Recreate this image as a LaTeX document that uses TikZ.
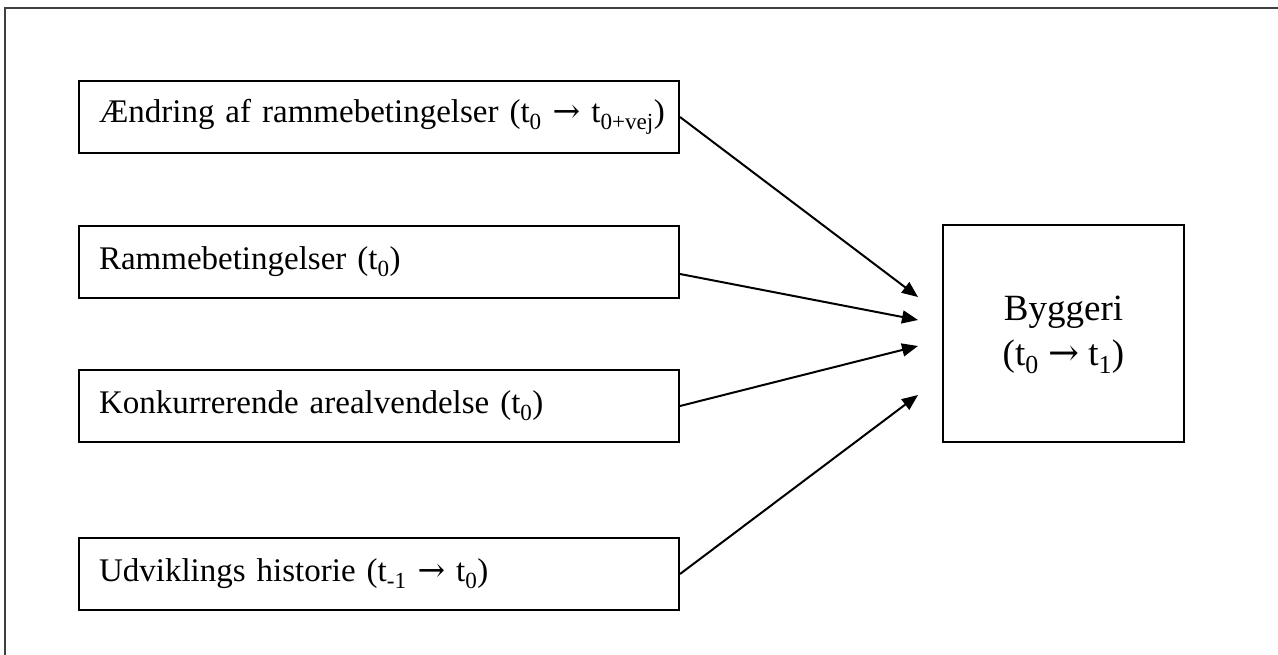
\documentclass[tikz,border=0pt]{standalone}
\usepackage{fontspec}
\setmainfont{Liberation Serif}
\newfontfamily\arrowfont{DejaVu Serif}
\usepackage{tikz}
\usetikzlibrary{arrows.meta,positioning}

\newcommand{\tarr}{{\arrowfont →}}

\begin{document}
\begin{tikzpicture}[
  x=1pt, y=-1pt,
  >={Triangle[length=16pt,width=13pt]},
  factor/.style={draw, line width=2pt, minimum height=72pt, text width=560pt, inner xsep=20pt, inner ysep=0pt, align=left, font=\fontsize{33}{40}\selectfont},
  result/.style={draw, line width=2pt, minimum width=241pt, minimum height=217pt, inner sep=0pt, align=center, font=\fontsize{37}{45}\selectfont},
  arr/.style={->, line width=2pt}
]
\useasboundingbox (0,0) rectangle (1278,655);
\draw[line width=2pt, black!75] (5,655) -- (5,8) -- (1278,8);

\node[factor] (aendring) at (379,117) {\mbox{Ændring af rammebetingelser (t\textsubscript{0} \tarr\ t\textsubscript{0+vej})}};
\node[factor] (ramme) at (379,262) {Rammebetingelser (t\textsubscript{0})};
\node[factor] (konkur) at (379,406) {Konkurrerende arealvendelse (t\textsubscript{0})};
\node[factor] (historie) at (379,574) {Udviklings historie (t\textsubscript{-1} \tarr\ t\textsubscript{0})};

\node[result] (byggeri) at (1063.5,333.5) {\raisebox{10pt}{\begin{tabular}{@{}c@{}}Byggeri\\(t\textsubscript{0} \tarr\ t\textsubscript{1})\end{tabular}}};

\coordinate (e1) at (918,297);
\coordinate (e2) at (918,320);
\coordinate (e3) at (918,346);
\coordinate (e4) at (918,395);

\draw[arr] (aendring.east) -- (e1);
\draw[arr] ([yshift=-12pt]ramme.east) -- (e2);
\draw[arr] (konkur.east) -- (e3);
\draw[arr] (historie.east) -- (e4);
\end{tikzpicture}
\end{document}
